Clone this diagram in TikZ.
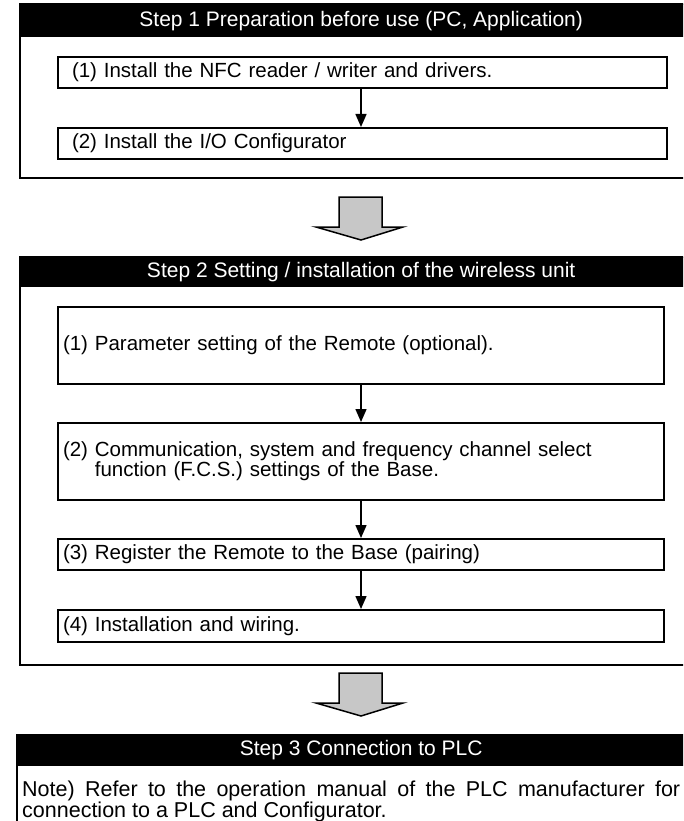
\documentclass[tikz,border=0pt]{standalone}
\usepackage{fontspec}
\setmainfont{Liberation Sans}
\usetikzlibrary{arrows.meta}
\begin{document}
\begin{tikzpicture}[x=1pt,y=-1pt,
  frame/.style={draw=black,line width=2pt},
  head/.style={fill=black,text=white,inner sep=0pt,anchor=north west,font=\fontsize{21}{22}\selectfont},
  stepbox/.style={draw=black,line width=2pt,anchor=north west,align=left,inner ysep=0pt,font=\fontsize{20.5}{20}\selectfont},
  flow/.style={line width=1.5pt,-{Triangle[width=11pt,length=13pt]}},
  bigarrow/.style={draw=black,line width=1.5pt,fill=black!22,line join=miter}
]
\useasboundingbox (0,0) rectangle (683,821);
\clip (0,0) rectangle (683,821);

% ---------- Step 1 ----------
\draw[frame] (20,4) rectangle (702,178);
\node[head,minimum width=682pt,minimum height=33pt] (h1) at (20,4) {Step 1 Preparation before use (PC, Application)};
\node[stepbox,inner xsep=14pt,text width=581pt,minimum height=31pt] (a1) at (57,56) {(1) Install the NFC reader / writer and drivers.};
\node[stepbox,inner xsep=14pt,text width=581pt,minimum height=31pt] (a2) at (57,127) {(2) Install the I/O Configurator};
\draw[flow] (a1.south -| 361,0) -- (a2.north -| 361,0);

% big arrow 1
\draw[bigarrow] (339,197) -- (382,197) -- (382,227) -- (403,227) -- (361,240) -- (316,227) -- (339,227) -- cycle;

% ---------- Step 2 ----------
\draw[frame] (20,257) rectangle (702,665);
\node[head,minimum width=682pt,minimum height=30pt] (h2) at (20,257) {Step 2 Setting / installation of the wireless unit};
\node[stepbox,inner xsep=5pt,text width=596pt,minimum height=77pt] (b1) at (57,306) {(1) Parameter setting of the Remote (optional).};
\node[stepbox,inner xsep=5pt,text width=596pt,minimum height=77pt] (b2) at (57,422) {(2) Communication, system and frequency channel select\\\phantom{(2) }function (F.C.S.) settings of the Base.};
\node[stepbox,inner xsep=5pt,text width=596pt,minimum height=31pt] (b3) at (57,538) {(3) Register the Remote to the Base (pairing)};
\node[stepbox,inner xsep=5pt,text width=596pt,minimum height=32pt] (b4) at (57,609) {(4) Installation and wiring.};
\draw[flow] (b1.south -| 361,0) -- (b2.north -| 361,0);
\draw[flow] (b2.south -| 361,0) -- (b3.north -| 361,0);
\draw[flow] (b3.south -| 361,0) -- (b4.north -| 361,0);

% big arrow 2
\draw[bigarrow] (339,673) -- (382,673) -- (382,703) -- (403,703) -- (361,716) -- (316,703) -- (339,703) -- cycle;

% ---------- Step 3 ----------
\draw[frame] (17,734) -- (17,830);
\node[head,minimum width=688pt,minimum height=32pt] (h3) at (17,734) {Step 3 Connection to PLC};
\node[anchor=north west,inner sep=0pt,text width=658pt,align=justify,font=\fontsize{21.5}{19}\selectfont] (n3) at (22,781) {Note) Refer to the operation manual of the PLC manufacturer for\linebreak connection to a PLC and Configurator.};
\end{tikzpicture}
\end{document}
